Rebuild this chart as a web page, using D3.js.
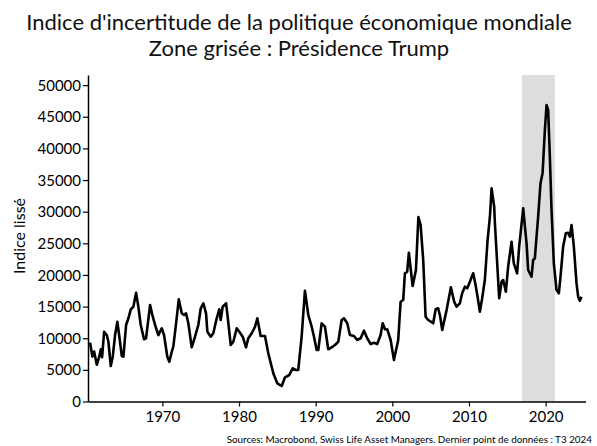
<!DOCTYPE html>
<html><head><meta charset="utf-8">
<script src="https://cdn.jsdelivr.net/npm/d3@7"></script>
<style>body{margin:0;background:#fff}svg{display:block}text{font-family:Lato,"Open Sans",sans-serif}</style>
</head><body><svg id="c" width="597" height="446"></svg>
<script>
const years = [1960.57,1960.87,1961.10,1961.45,1961.79,1961.97,1962.14,1962.40,1962.75,1962.96,1963.27,1963.53,1963.83,1964.13,1964.39,1964.71,1964.92,1965.27,1965.57,1965.88,1966.22,1966.57,1966.87,1967.18,1967.61,1967.87,1968.40,1968.75,1969.05,1969.48,1969.92,1970.22,1970.65,1970.91,1971.23,1971.43,1971.79,1972.14,1972.53,1972.83,1973.09,1973.39,1973.83,1974.26,1974.69,1975.01,1975.35,1975.70,1975.87,1976.31,1976.65,1977.09,1977.43,1977.61,1977.87,1978.31,1978.47,1978.92,1979.26,1979.70,1980.04,1980.48,1980.91,1981.21,1981.66,1982.09,1982.39,1982.82,1983.39,1983.82,1984.47,1984.99,1985.57,1986.00,1986.56,1987.00,1987.43,1987.73,1988.17,1988.60,1989.04,1989.48,1989.78,1990.13,1990.34,1990.78,1991.21,1991.64,1992.09,1992.52,1992.95,1993.39,1993.69,1994.12,1994.47,1994.99,1995.42,1995.87,1996.30,1996.73,1997.17,1997.60,1998.03,1998.47,1998.74,1999.04,1999.34,1999.78,2000.21,2000.77,2001.08,2001.42,2001.64,2001.94,2002.16,2002.65,2003.08,2003.40,2003.69,2004.03,2004.34,2004.68,2005.03,2005.33,2005.65,2005.98,2006.25,2006.51,2007.08,2007.64,2008.07,2008.38,2008.81,2009.11,2009.47,2009.77,2010.12,2010.55,2010.86,2011.12,2011.42,2011.72,2012.07,2012.43,2012.73,2012.95,2013.29,2013.38,2013.68,2013.94,2014.25,2014.46,2014.81,2015.11,2015.55,2015.85,2016.28,2016.55,2017.07,2017.51,2017.72,2018.16,2018.37,2018.59,2019.02,2019.33,2019.60,2019.90,2020.12,2020.33,2020.55,2020.77,2021.07,2021.42,2021.72,2021.94,2022.28,2022.63,2022.93,2023.16,2023.38,2023.68,2024.03,2024.24,2024.46,2024.68];
const values = [9300,7100,7900,5800,7200,8250,7000,11000,10500,9450,5600,7080,10500,12600,10240,7190,7080,12090,13150,14570,14980,17190,14980,12090,9830,9990,15250,13400,12090,10500,11570,10500,7080,6290,7870,8660,12360,16150,13940,13670,13940,12360,8560,10240,12090,14730,15520,13940,11030,10240,10780,13150,14570,12880,14980,15520,13940,8930,9450,11570,11030,10240,8560,9990,10780,11820,13150,10350,10350,7620,4460,2880,2450,3820,4190,5250,4980,4980,10240,17510,13670,11820,10240,8140,8140,12360,11820,8250,8560,8930,9450,12880,13150,12360,10500,10350,9720,9990,11190,9990,9090,9290,9090,10500,12360,11410,11410,9720,6560,9720,15770,16040,20260,20510,23510,18250,20780,29150,27890,22360,13400,12880,12610,12360,14570,14730,13400,11300,14460,18040,15770,14980,15520,17100,18140,17890,18930,20260,18410,16560,14190,16310,19200,25520,29200,33690,30780,28160,21840,16310,18930,19200,17350,21300,25250,21840,20260,24460,30530,25000,20780,19720,22360,22630,29200,34480,36060,42900,46850,46060,38680,30260,21840,17620,17100,19720,24460,26580,26670,26040,27890,24460,18680,16560,15930,16560];
const yTicks = [0,5000,10000,15000,20000,25000,30000,35000,40000,45000,50000];
const xTicks = [1970,1980,1990,2000,2010,2020];
const trumpPeriod = [2016.9, 2021.2];
const titleLines = ["Indice d'incertitude de la politique économique mondiale","Zone grisée : Présidence Trump"];
const yLabel = "Indice lissé";
const sourceText = "Sources: Macrobond, Swiss Life Asset Managers. Dernier point de données : T3 2024";

const svg = d3.select("#c");
svg.append("rect").attr("width",597).attr("height",446).attr("fill","#fff");
const x = d3.scaleLinear().domain([1960.3, 2025.2]).range([88, 585.5]);
const y = d3.scaleLinear().domain([0, 51600]).range([401.5, 75]);

svg.append("rect").attr("x", x(trumpPeriod[0])).attr("width", x(trumpPeriod[1]) - x(trumpPeriod[0]))
  .attr("y", y(51600)).attr("height", y(0) - y(51600)).attr("fill", "#dddddd");

const data = years.map((d,i)=>[d, values[i]]);
svg.append("path").datum(data)
  .attr("fill","none").attr("stroke","#000").attr("stroke-width",2.6).attr("stroke-linejoin","round")
  .attr("d", d3.line().x(d=>x(d[0])).y(d=>y(d[1])));

const ya = svg.append("g").attr("transform","translate(88,0)")
  .call(d3.axisLeft(y).tickValues(yTicks).tickFormat(d3.format("d")).tickSize(5).tickSizeOuter(0));
const xa = svg.append("g").attr("transform","translate(0,401.5)")
  .call(d3.axisBottom(x).tickValues(xTicks).tickFormat(d3.format("d")).tickSize(5).tickSizeOuter(0));
[ya, xa].forEach(g=>{
  g.select(".domain").attr("stroke","#000").attr("stroke-width",1.5);
  g.selectAll(".tick line").attr("stroke","#000").attr("stroke-width",1.2);
  g.selectAll(".tick text").attr("fill","#000").style("font-size","15px").style("font-family","Lato, sans-serif");
});
ya.selectAll(".tick text").attr("x",-7).attr("dy","0.34em");
xa.selectAll(".tick text").attr("y",9).attr("dy","0.75em");

svg.selectAll("text.title").data(titleLines).join("text").attr("class","title")
  .attr("x",299).attr("y",(d,i)=>30+i*26).attr("text-anchor","middle")
  .style("font-size","22px").attr("fill","#111").text(d=>d);

svg.append("text").attr("transform","translate(25,236) rotate(-90)").attr("text-anchor","middle")
  .style("font-size","16px").attr("fill","#000").text(yLabel);

svg.append("text").attr("x",592).attr("y",443).attr("text-anchor","end")
  .style("font-size","9.85px").attr("fill","#000").text(sourceText);
</script></body></html>
